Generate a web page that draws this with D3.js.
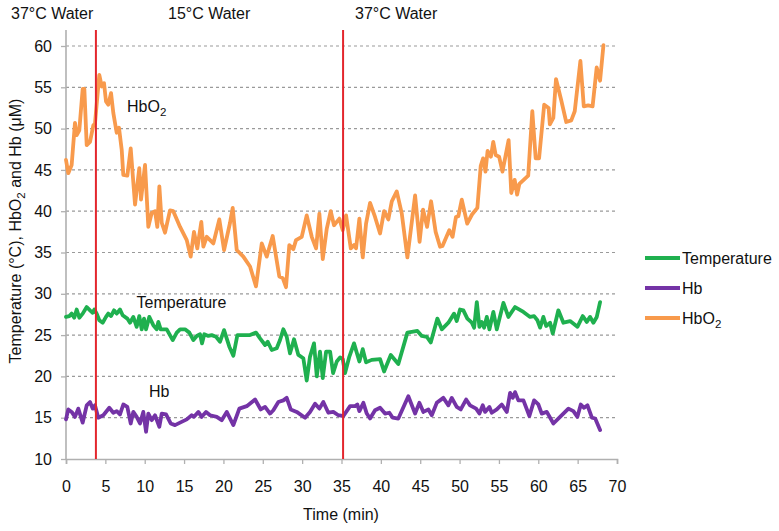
<!DOCTYPE html>
<html><head><meta charset="utf-8">
<script src="https://cdn.jsdelivr.net/npm/d3@7"></script>
<style>body{margin:0;background:#fff}svg{display:block}text{font-family:"Liberation Sans",Arial,Helvetica,sans-serif;fill:#111}</style>
</head><body><svg id="c" width="779" height="531"></svg>
<script>
const xTicks=[0,5,10,15,20,25,30,35,40,45,50,55,60,65,70];
const yTicks=[10,15,20,25,30,35,40,45,50,55,60];
const phaseLabels=["37°C Water","15°C Water","37°C Water"];
const switchTimes=[3.8,35.2];
const seriesNames=["Temperature","Hb","HbO2"];
const seriesColors=["#1fb04f","#7433a6","#f89a4c"];

const tHbO2=[0,0.29,0.72,1.14,1.36,1.69,2.12,2.33,2.63,3.05,3.47,3.68,4.23,4.54,4.83,5.08,5.37,5.72,6.01,6.44,6.73,7.08,7.28,7.79,8.22,8.77,9.31,9.53,10.04,10.46,10.89,11.31,11.6,11.86,12.16,12.58,13.21,13.63,14.49,15.34,15.84,16.26,16.68,17.19,17.45,17.88,18.72,19.48,20.08,20.84,21.18,21.69,22.53,23.38,24.14,24.87,25.5,26.26,27.1,27.54,27.95,28.37,28.88,29.22,29.95,30.58,31.22,31.77,32.19,32.62,33.13,33.63,34.05,34.73,35.16,35.58,36.18,36.59,36.85,37.27,37.7,38.12,38.63,39.26,39.9,40.41,40.95,41.39,42.02,42.66,43.37,44.35,44.92,45.36,45.87,46.38,46.96,47.52,47.83,48.69,49.11,49.54,49.85,50.28,50.97,51.58,52.26,52.69,52.99,53.29,53.56,53.98,54.28,54.59,55.02,55.45,56.23,56.57,57,57.31,57.6,58.72,59.24,59.67,60.1,60.75,61.31,61.47,61.91,62.25,62.9,63.55,64.19,64.63,65.35,65.78,66.34,66.9,67.42,67.85,68.28];
const vHbO2=[46.2,44.6,45.6,50.7,49.2,49.8,54.8,54.8,48,48.4,50.4,50.6,56.5,55.1,55.5,53.3,52.9,54.3,51.9,49.5,50.1,47.4,44.4,44.3,47.6,40.8,45.2,41.4,45.6,38.1,39.8,40,38.1,43,38.6,37.4,40.1,40,38.1,36.5,34.5,37.5,35.5,38.7,35.7,36.9,36.1,39,35.3,38.6,40.4,35.3,34.5,33.3,30.9,36.1,34.5,37,32.1,31.9,30.8,35.9,35.4,36.5,36.9,39.5,36.9,35.5,39.7,34.2,37.9,40,38.3,39.1,37.7,39.5,35.5,35.9,35.5,39.1,34.4,38.5,41,39.3,37.3,40,39,41.2,42.4,39.7,34.4,41.9,36.3,40.2,38.1,41.2,37.5,35.7,35.8,37.7,36.9,39.3,39.4,41.4,38.5,39.6,40.4,45.5,46.4,44.8,47.3,46.6,48.4,46.8,46.6,44.8,48.6,42.2,43.8,42,43.3,44.3,52.1,46.4,46.4,52.9,52.5,50.5,51.3,56,53.5,50.8,51,52.1,58.2,52.7,52.8,52.7,57.4,55.8,60.1];

const tTemp=[0,0.42,0.72,1.05,1.36,1.69,2.12,2.63,3.05,3.39,3.6,3.9,4.23,4.66,5.08,5.37,5.72,6.1,6.44,6.86,7.2,7.79,8.13,8.55,8.98,9.31,9.62,9.91,10.17,10.58,11.09,11.52,11.73,12.03,12.8,13.56,14.07,14.49,15.12,15.67,16.18,16.61,17.03,17.28,17.57,18.08,18.51,19.06,19.57,20.08,20.75,21.26,21.77,22.53,23.38,24.14,24.65,25.29,25.63,26.14,26.77,27.19,27.61,28.04,28.46,28.97,29.52,30.15,30.58,31,31.51,31.86,32.27,32.62,33.04,33.55,33.93,34.4,34.82,35.16,35.45,36,36.59,37.27,37.7,38.12,38.84,39.9,40.41,41.26,42.22,43.37,44.64,45.2,45.83,46.34,47.18,47.74,48.58,49.3,49.64,50.06,50.48,50.99,51.56,51.85,52.19,52.52,52.82,53.11,53.46,53.79,54.29,54.73,55.57,56.2,57.05,58.11,58.96,59.47,59.89,60.23,60.65,61,61.5,61.84,62.55,63.19,64.04,64.97,65.65,66.16,66.58,67,67.43,67.85];
const vTemp=[27.2,27.3,27.6,27.1,28.1,27.1,27.6,28.4,28,27.7,28.1,27.6,26.8,26.5,27.2,27.6,27.3,28,27.6,28.1,27.4,27,26.5,27.2,26,27.3,25.7,27,25.7,27.2,26.2,25.7,26.6,25.7,25.7,24.4,25.3,25.7,25.7,25.3,24.4,24.9,25.1,24,25.1,24.9,25,24.8,24.2,25.6,23.6,22.5,25,25,25,25.3,24.6,23.8,24.2,23.2,23.4,24.4,25.7,24.8,22.8,24.5,22.6,22.2,19.5,22.4,24,20,23,19.8,23,23,20.4,21.8,22.3,22.1,20.4,22.4,24,21.8,23.3,21.7,22,22.1,20.6,22.6,21.5,25.3,25.5,24.9,24.8,24.1,27,25.7,26.5,27.6,26.7,28.1,28,27,26.5,25.9,29,26,26.6,25.9,27.2,25.7,27.8,25.7,28.9,27.2,28.4,27.8,27.2,27.3,26.8,25.9,27.2,26.1,26.5,25.2,28,26.5,26.7,26,27.3,26.6,27.2,26.5,27.2,29];

const tHb=[0,0.29,0.72,1.14,1.56,2.12,2.63,3.05,3.39,3.68,4.1,4.74,5.5,6.01,6.44,6.86,7.28,7.79,8.22,8.55,8.98,9.4,9.82,10.17,10.46,10.89,11.31,11.86,12.16,12.71,13.3,13.85,14.49,15.34,15.97,16.26,16.81,17.24,17.79,18.3,19.15,19.78,20.42,21.26,22.02,22.96,24.02,24.74,25.29,25.92,26.34,26.98,27.61,28.04,28.55,29.31,30.37,31,31.64,32.19,32.69,33.33,33.96,34.6,35.24,36.09,36.72,37.01,37.27,37.78,38.21,38.63,39.26,39.9,40.53,41.08,41.51,42.22,43.49,44.35,44.89,45.4,46.04,46.47,47.1,47.94,48.58,49.01,49.64,50.15,50.83,51.33,52.1,52.52,52.95,53.24,53.79,54.09,54.73,55.36,56,56.42,56.76,57.05,57.47,58.11,58.87,59.47,60.01,60.44,61.08,61.92,62.77,63.83,64.46,64.97,65.4,65.82,66.25,66.81,67.23,67.85];
const vHb=[14.8,16,15.7,15.1,16.1,14.4,16.5,16.9,16.1,16.5,15,15.3,16.2,15.6,15.8,15.4,16.6,16.3,14.3,15.7,15.1,14.3,15.7,13.3,15.5,14.7,15.3,13.9,15.5,15.4,14.3,14.1,14.4,14.8,15.3,15.1,15.7,15.1,15.7,15.3,15.1,14.7,15.7,14.1,16.1,16.4,17.2,16,16.3,15.5,15.9,16.9,17.1,17.4,16,15.7,15,15.7,16.7,16.1,16.9,15.6,15.7,15.3,15.2,16.4,16.4,16.6,15.8,16.8,15.5,14.9,15.9,16.2,15.5,15.6,15,14.9,17.6,15.5,16.8,15.7,16,15.3,16.8,17.4,16.5,17.4,16.3,16,17.2,16.5,16.1,15.5,16.5,15.7,16.3,15.6,16,16.6,15.7,18,17.4,18.1,17.1,17.1,15.2,17.1,16.6,15.5,15.7,14.3,15.1,16.1,15.8,15.1,16.6,16.2,16.5,15,14.9,13.5];

const svg=d3.select("#c");
const x=d3.scaleLinear().domain([0,70]).range([66,617]);
const y=d3.scaleLinear().domain([10,60]).range([459,46]);

// gridlines
svg.append("g").selectAll("line").data(yTicks.filter(d=>d>10)).join("line")
  .attr("x1",x(0)).attr("x2",x(70)).attr("y1",d=>y(d)).attr("y2",d=>y(d))
  .attr("stroke","#9a9a9a").attr("stroke-width",1.2).attr("stroke-dasharray","3,3");

// axes
const ax=svg.append("g").attr("transform",`translate(0,${y(10)})`)
  .call(d3.axisBottom(x).tickValues(xTicks).tickSize(5).tickPadding(17).tickFormat(d3.format("d")));
ax.select(".domain").attr("stroke","#b0b0b0").attr("stroke-width",1.6);
ax.selectAll(".tick line").attr("stroke","#b0b0b0").attr("stroke-width",1.3);
ax.selectAll("text").attr("font-size",16).attr("fill","#111").attr("font-family","Liberation Sans, Arial, sans-serif");

const ay=svg.append("g").attr("transform",`translate(${x(0)},0)`)
  .call(d3.axisLeft(y).tickValues(yTicks).tickSize(5).tickPadding(9).tickFormat(d3.format("d")));
ay.select(".domain").remove();
ay.selectAll(".tick line").attr("stroke","#b0b0b0").attr("stroke-width",1.3);
ay.selectAll("text").attr("font-size",16).attr("fill","#111").attr("font-family","Liberation Sans, Arial, sans-serif");
svg.append("line").attr("x1",x(0)).attr("x2",x(0)).attr("y1",30).attr("y2",y(10)).attr("stroke","#b0b0b0").attr("stroke-width",1.6);

// series
const line=d3.line().x(d=>x(d[0])).y(d=>y(d[1])).curve(d3.curveLinear);
const series=[d3.zip(tTemp,vTemp),d3.zip(tHb,vHb),d3.zip(tHbO2,vHbO2)];
series.forEach((s,i)=>{
  svg.append("path").datum(s).attr("d",line).attr("fill","none")
    .attr("stroke",seriesColors[i]).attr("stroke-width",3.8).attr("stroke-linejoin","round").attr("stroke-linecap","round");
});

// red switch lines
svg.append("g").selectAll("line").data(switchTimes).join("line")
  .attr("x1",d=>x(d)).attr("x2",d=>x(d)).attr("y1",30).attr("y2",y(10))
  .attr("stroke","#e3262d").attr("stroke-width",2);

// phase labels
const phaseX=[11,168,355];
svg.append("g").selectAll("text").data(phaseLabels).join("text")
  .attr("x",(d,i)=>phaseX[i]).attr("y",18.5).attr("font-size",16).text(d=>d);

// annotations
function hbo2Text(sel,fs){
  sel.append("tspan").text("HbO");
  sel.append("tspan").attr("dy",4).attr("font-size",fs*0.72).text("2");
}
const a1=svg.append("text").attr("x",127).attr("y",111.5).attr("font-size",16);
hbo2Text(a1,16);
svg.append("text").attr("x",136.5).attr("y",308).attr("font-size",16).text("Temperature");
svg.append("text").attr("x",149).attr("y",397).attr("font-size",16).text("Hb");

// axis titles
svg.append("text").attr("x",341).attr("y",520).attr("text-anchor","middle").attr("font-size",16).text("Time (min)");
const yt=svg.append("text").attr("transform","translate(21,231) rotate(-90)").attr("text-anchor","middle").attr("font-size",16);
yt.append("tspan").text("Temperature (°C), HbO");
yt.append("tspan").attr("dy",4).attr("font-size",11.5).text("2");
yt.append("tspan").attr("dy",-4).text(" and Hb (μM)");

// legend
const lg=svg.append("g");
const legY=[258,288,318];
seriesNames.forEach((n,i)=>{
  lg.append("line").attr("x1",645).attr("x2",680).attr("y1",legY[i]).attr("y2",legY[i])
    .attr("stroke",seriesColors[i]).attr("stroke-width",3.8);
  const t=lg.append("text").attr("x",682).attr("y",legY[i]+5.5).attr("font-size",16);
  if(n==="HbO2") hbo2Text(t,16); else t.text(n);
});
</script></body></html>
